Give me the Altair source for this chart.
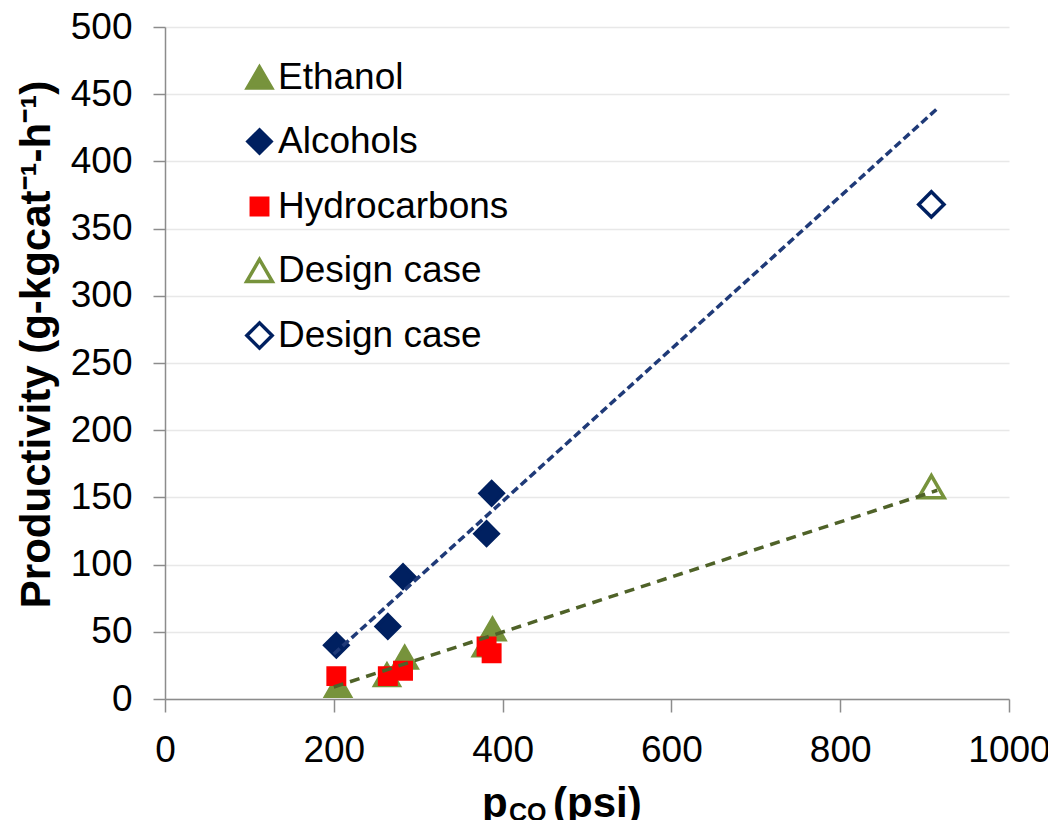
import altair as alt
import pandas as pd

# ---- data ----
ethanol_p = [205, 263, 284, 380, 388]
ethanol_v = [10, 18, 31, 40, 52]
alcohols_p = [203, 264, 282, 381, 387]
alcohols_v = [40, 54, 91, 123, 153]
hydro_p = [203, 264, 282, 381, 387]
hydro_v = [17, 17, 21, 39, 34]
design_p = [908]
design_ethanol_v = [158]
design_alcohols_v = [368]

series_order = ["Ethanol", "Alcohols", "Hydrocarbons",
                "Design case (ethanol)", "Design case (alcohols)"]
x_ticks = [0, 200, 400, 600, 800, 1000]
y_ticks = list(range(0, 501, 50))
trend_extent = [200, 915]

rows = []
for name, ps, vs in [("Ethanol", ethanol_p, ethanol_v),
                     ("Alcohols", alcohols_p, alcohols_v),
                     ("Hydrocarbons", hydro_p, hydro_v),
                     ("Design case (ethanol)", design_p, design_ethanol_v),
                     ("Design case (alcohols)", design_p, design_alcohols_v)]:
    for p, v in zip(ps, vs):
        rows.append({"p": p, "v": v, "series": name})
df = pd.DataFrame(rows)

GREEN = "#77933C"
GREEN_LINE = "#4F6228"
NAVY = "#002060"
NAVY_LINE = "#1F3A78"
RED = "#FF0000"
FONT = "Liberation Sans"

leg = alt.Legend(
    title=None, orient="none", legendX=76, legendY=32,
    labelFontSize=37, labelFont=FONT, labelColor="black", labelLimit=0,
    labelExpr="indexof(datum.label, 'Design') == 0 ? 'Design case' : datum.label",
    symbolStrokeWidth=3.5, rowPadding=26, labelOffset=0, padding=0,
    symbolOpacity=1,
)

x_enc = alt.X("p:Q", scale=alt.Scale(domain=[0, 1000], nice=False),
              axis=alt.Axis(values=x_ticks, tickSize=13, labelPadding=20,
                            grid=False, title=None, labelFlush=False,
                            labelOverlap=False, format="d"))
y_enc = alt.Y("v:Q", scale=alt.Scale(domain=[0, 500], nice=False),
              axis=alt.Axis(values=y_ticks, tickSize=12, labelPadding=21,
                            grid=True, gridColor="#E8E8E8", gridWidth=1.5,
                            labelOverlap=False, format="d",
                            title="Productivity (g-kgcat⁻¹-h⁻¹)",
                            titleFont=FONT, titleFontSize=42,
                            titleFontWeight="bold", titleColor="black",
                            titleX=-116, titleY=317, titleAngle=270,
                            titleBaseline="alphabetic"))

points = alt.Chart(df).mark_point(opacity=1, strokeWidth=3.5).encode(
    x=x_enc,
    y=y_enc,
    shape=alt.Shape("series:N", sort=series_order,
                    scale=alt.Scale(domain=series_order,
                                    range=["triangle-up", "diamond", "square",
                                           "triangle-up", "diamond"]),
                    legend=leg),
    fill=alt.Fill("series:N", sort=series_order,
                  scale=alt.Scale(domain=series_order,
                                  range=[GREEN, NAVY, RED, "transparent", "transparent"]),
                  legend=leg),
    stroke=alt.Stroke("series:N", sort=series_order,
                      scale=alt.Scale(domain=series_order,
                                      range=[GREEN, NAVY, RED, GREEN, NAVY]),
                      legend=leg),
    size=alt.Size("series:N", sort=series_order,
                  scale=alt.Scale(type="ordinal", domain=series_order,
                                  range=[600, 540, 270, 660, 640]),
                  legend=leg),
)

eth_line = alt.Chart(df).transform_filter(
    alt.datum.series == "Ethanol"
).transform_regression("p", "v", extent=trend_extent).mark_line(
    color=GREEN_LINE, strokeDash=[10, 7], strokeWidth=3.5
).encode(x="p:Q", y="v:Q")

alc_line = alt.Chart(df).transform_filter(
    alt.datum.series == "Alcohols"
).transform_regression("p", "v", extent=trend_extent).mark_line(
    color=NAVY_LINE, strokeDash=[8, 4], strokeWidth=3.5
).encode(x="p:Q", y="v:Q")

# x-axis title with subscript, built from text marks
t_main = alt.Chart(pd.DataFrame({"t": ["p"]})).mark_text(
    font=FONT, fontSize=42, fontWeight="bold", align="left",
    baseline="alphabetic", color="black"
).encode(x=alt.value(317), y=alt.value(790), text="t:N")
t_sub = alt.Chart(pd.DataFrame({"t": ["CO"]})).mark_text(
    font=FONT, fontSize=25, fontWeight="bold", align="left",
    baseline="alphabetic", color="black"
).encode(x=alt.value(344), y=alt.value(794), text="t:N")
t_unit = alt.Chart(pd.DataFrame({"t": ["(psi)"]})).mark_text(
    font=FONT, fontSize=42, fontWeight="bold", align="left",
    baseline="alphabetic", color="black"
).encode(x=alt.value(388), y=alt.value(790), text="t:N")

chart = alt.layer(points, eth_line, alc_line, t_main, t_sub, t_unit).properties(
    width=844, height=672,
    autosize=alt.AutoSizeParams(type="none"),
    padding={"left": 157, "top": 19, "right": 39, "bottom": 121},
).configure_view(stroke=None).configure_axis(
    domainColor="#8C8C8C", tickColor="#8C8C8C", domainWidth=1.5, tickWidth=1.5,
    labelFont=FONT, labelFontSize=37, labelColor="black",
)

chart.save("out.html", embed_options={"renderer": "svg", "actions": False})
